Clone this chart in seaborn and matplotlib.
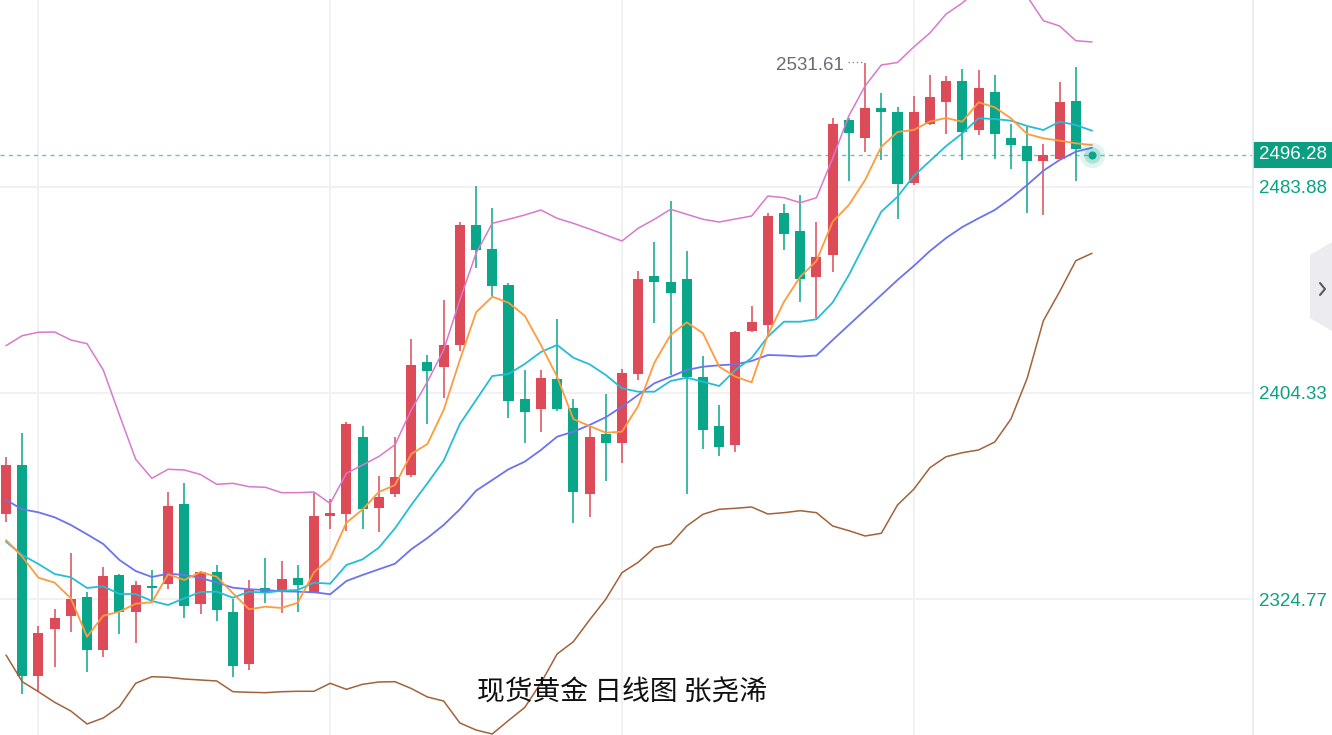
import numpy as np
import pandas as pd
import matplotlib
matplotlib.use("Agg")
import matplotlib.pyplot as plt
import matplotlib.transforms as mtransforms
from matplotlib.patches import Polygon, Rectangle
from matplotlib.lines import Line2D
import seaborn as sns

# ---------------- data (daily candles) ----------------
opens = [2357.60, 2376.53, 2295.05, 2313.08, 2318.22, 2325.55, 2304.97, 2334.16, 2319.88, 2329.80,
         2330.46, 2361.47, 2322.85, 2335.32, 2319.76, 2299.56, 2328.91, 2327.99, 2333.01, 2327.60,
         2356.83, 2357.49, 2387.45, 2359.81, 2365.21, 2372.66, 2416.30, 2414.37, 2422.98, 2469.20,
         2459.94, 2446.04, 2401.90, 2398.15, 2409.62, 2398.42, 2365.21, 2388.50, 2384.91, 2411.55,
         2449.40, 2447.08, 2448.35, 2410.62, 2391.59, 2384.25, 2428.27, 2430.47, 2473.84, 2466.89,
         2449.01, 2457.74, 2509.87, 2502.80, 2514.39, 2512.73, 2485.42, 2508.21, 2516.82, 2524.81,
         2505.89, 2520.68, 2502.80, 2499.83, 2493.80, 2494.81, 2517.20]
highs = [2379.50, 2388.77, 2314.47, 2320.80, 2342.43, 2327.37, 2337.14, 2334.40, 2331.85, 2335.98,
         2366.10, 2369.58, 2335.71, 2337.79, 2324.67, 2332.00, 2340.61, 2339.46, 2337.79, 2365.60,
         2363.28, 2393.25, 2391.59, 2372.39, 2387.45, 2425.07, 2418.89, 2440.24, 2470.36, 2484.27,
         2475.65, 2446.69, 2413.21, 2413.10, 2432.79, 2402.01, 2391.08, 2403.83, 2413.60, 2451.44,
         2462.76, 2478.47, 2459.28, 2418.73, 2399.70, 2428.30, 2437.93, 2473.72, 2477.31, 2480.79,
         2470.36, 2510.41, 2510.41, 2531.61, 2520.29, 2514.89, 2519.02, 2527.13, 2526.74, 2529.45,
         2528.94, 2527.13, 2508.21, 2506.93, 2500.48, 2524.31, 2530.10]
lows = [2354.63, 2287.98, 2288.98, 2298.41, 2311.92, 2296.71, 2302.50, 2311.27, 2307.67, 2323.74,
        2328.53, 2317.56, 2318.87, 2316.29, 2294.54, 2297.36, 2323.12, 2319.26, 2319.88, 2327.10,
        2351.70, 2351.16, 2351.70, 2350.65, 2364.05, 2372.01, 2392.36, 2402.28, 2420.55, 2452.48,
        2441.79, 2394.56, 2384.91, 2389.39, 2397.49, 2354.24, 2356.33, 2370.35, 2377.18, 2409.35,
        2431.25, 2411.28, 2365.33, 2382.59, 2380.00, 2381.66, 2427.90, 2426.07, 2459.43, 2439.35,
        2433.18, 2451.17, 2486.20, 2497.51, 2494.31, 2471.52, 2484.70, 2508.00, 2504.35, 2494.31,
        2503.96, 2494.81, 2490.83, 2473.95, 2472.95, 2494.60, 2486.20]
closes = [2376.53, 2295.05, 2311.54, 2317.44, 2324.90, 2304.97, 2333.66, 2319.88, 2330.19, 2328.84,
          2360.81, 2322.19, 2335.32, 2320.53, 2299.02, 2328.26, 2327.60, 2332.50, 2330.19, 2356.83,
          2357.87, 2392.24, 2359.42, 2364.17, 2371.78, 2415.26, 2412.71, 2422.87, 2469.20, 2459.55,
          2445.53, 2401.12, 2396.99, 2410.01, 2398.04, 2366.22, 2387.45, 2384.91, 2411.94, 2448.35,
          2447.31, 2442.83, 2410.62, 2390.04, 2383.59, 2428.00, 2431.63, 2472.80, 2465.85, 2448.35,
          2456.96, 2508.09, 2504.73, 2514.39, 2512.84, 2484.92, 2512.73, 2518.52, 2524.81, 2505.23,
          2521.99, 2504.23, 2500.10, 2493.80, 2496.35, 2516.70, 2498.40]

# indicator lines (one extra point: the live day)
ma5 = [2347.56, 2341.12, 2333.01, 2331.08, 2325.05, 2310.22, 2318.33, 2319.88, 2322.97, 2323.51,
       2334.32, 2332.12, 2335.21, 2333.39, 2326.98, 2320.80, 2321.81, 2321.31, 2323.35, 2335.09,
       2340.50, 2354.24, 2359.34, 2366.10, 2368.80, 2380.77, 2384.64, 2397.77, 2417.07, 2435.49,
       2441.52, 2439.20, 2434.18, 2422.87, 2410.62, 2394.29, 2391.59, 2389.00, 2389.39, 2399.31,
       2416.03, 2426.73, 2431.63, 2427.38, 2414.49, 2410.62, 2408.46, 2426.73, 2439.59, 2449.24,
       2455.30, 2470.48, 2476.93, 2486.58, 2499.44, 2505.12, 2505.89, 2509.17, 2510.52, 2509.10,
       2516.59, 2514.66, 2510.41, 2504.35, 2502.69, 2501.76, 2500.75, 2500.10]
ma10 = [2346.91, 2341.77, 2338.30, 2334.43, 2333.16, 2329.03, 2329.68, 2326.71, 2326.71, 2324.01,
        2322.46, 2325.05, 2327.48, 2327.60, 2325.28, 2327.60, 2327.21, 2327.99, 2328.26, 2331.08,
        2330.69, 2337.91, 2340.11, 2344.59, 2352.08, 2361.08, 2369.46, 2378.19, 2392.36, 2401.63,
        2410.89, 2411.67, 2415.53, 2420.16, 2422.87, 2417.96, 2415.41, 2411.28, 2406.14, 2404.83,
        2404.83, 2408.96, 2410.24, 2408.69, 2407.03, 2413.21, 2417.85, 2426.07, 2431.86, 2431.86,
        2432.79, 2439.28, 2449.90, 2462.14, 2474.34, 2480.13, 2488.13, 2493.92, 2499.71, 2504.62,
        2510.41, 2510.14, 2509.48, 2507.43, 2505.89, 2509.10, 2507.82, 2505.62]
ma20 = [2363.01, 2359.42, 2358.26, 2356.33, 2353.36, 2349.77, 2346.02, 2339.84, 2335.59, 2333.28,
        2334.55, 2334.05, 2332.89, 2331.15, 2329.14, 2328.53, 2328.26, 2327.75, 2327.60, 2327.37,
        2326.60, 2331.73, 2334.05, 2336.25, 2338.41, 2343.97, 2348.34, 2353.36, 2359.42, 2366.60,
        2370.73, 2374.87, 2377.80, 2382.32, 2387.45, 2389.39, 2391.97, 2394.95, 2399.04, 2403.56,
        2408.08, 2410.62, 2413.21, 2414.49, 2415.03, 2415.41, 2416.69, 2419.00, 2418.81, 2418.42,
        2418.81, 2424.80, 2430.59, 2436.38, 2442.17, 2447.97, 2453.37, 2459.16, 2464.18, 2468.43,
        2471.79, 2475.00, 2479.52, 2484.65, 2490.17, 2494.31, 2497.51, 2499.05]
boll_up = [2422.60, 2426.46, 2427.77, 2427.89, 2424.80, 2423.37, 2413.21, 2395.83, 2378.73, 2371.39,
           2374.87, 2374.60, 2372.86, 2369.07, 2369.46, 2368.15, 2367.92, 2365.83, 2365.83, 2366.10,
           2361.66, 2373.32, 2376.53, 2379.81, 2384.37, 2397.77, 2408.69, 2420.93, 2440.24, 2458.28,
           2469.86, 2471.41, 2473.07, 2475.00, 2471.79, 2469.86, 2467.66, 2465.34, 2463.03, 2467.93,
           2471.41, 2475.27, 2473.34, 2471.41, 2470.36, 2471.52, 2472.68, 2480.40, 2479.75, 2477.82,
           2479.75, 2494.96, 2511.41, 2522.88, 2530.99, 2531.96, 2537.94, 2543.35, 2550.68, 2554.93,
           2560.50, 2563.00, 2562.50, 2557.50, 2548.10, 2546.05, 2540.37, 2539.87]
boll_dn = [2303.16, 2292.85, 2288.98, 2284.89, 2281.53, 2276.51, 2278.83, 2283.19, 2292.23, 2294.78,
           2294.54, 2293.89, 2293.50, 2293.12, 2288.98, 2288.75, 2288.60, 2288.98, 2289.14, 2289.14,
           2292.23, 2289.91, 2291.84, 2292.73, 2292.85, 2290.22, 2286.94, 2285.39, 2276.90, 2274.19,
           2272.65, 2277.86, 2282.88, 2292.34, 2303.54, 2308.29, 2316.67, 2324.67, 2334.94, 2338.95,
           2344.59, 2346.02, 2352.97, 2357.49, 2359.42, 2359.81, 2360.31, 2357.60, 2358.11, 2358.88,
           2358.11, 2352.97, 2351.16, 2349.11, 2350.15, 2361.08, 2367.14, 2375.48, 2379.73, 2381.28,
           2382.32, 2385.41, 2394.29, 2410.01, 2432.25, 2443.45, 2455.42, 2458.28]

ytick_values = [2324.77, 2404.33, 2483.88]
ytick_labels = ["2324.77", "2404.33", "2483.88"]
last_price = 2496.28
last_price_label = "2496.28"
peak_index = 53
peak_value = 2531.61
peak_label = "2531.61"
title_text = "现货黄金 日线图 张尧浠"

# ---------------- style ----------------
sns.set_theme(style="white")
plt.rcParams['font.family'] = ['Liberation Sans', 'Noto Sans CJK SC', 'DejaVu Sans']

W, H = 1332, 735
fig = plt.figure(figsize=(W / 100, H / 100), dpi=100)
fig.patch.set_facecolor("white")
ax = fig.add_axes([0, 0, 1252 / W, 1])
ax.set_facecolor("white")

RED = "#dc4b57"
GREEN = "#0aa68a"
TEAL_TXT = "#0aa183"

idx = np.arange(len(opens))
o = np.array(opens)
c = np.array(closes)
colors = [RED if cc >= oo else GREEN for oo, cc in zip(o, c)]

# wicks and bodies
ax.vlines(idx, lows, highs, colors=colors, linewidth=1.1, zorder=2)
bottoms = np.minimum(o, c)
heights = np.maximum(np.abs(c - o), 0.55)
ax.bar(idx, heights, bottom=bottoms, width=0.62, color=colors, linewidth=0, zorder=2)

# indicator lines
line_df = pd.DataFrame({
    "day": np.arange(len(ma5)),
    "ma5": ma5, "ma10": ma10, "ma20": ma20,
    "up": boll_up, "dn": boll_dn,
})
styles = [
    ("up", "#d978cd", 1.1),
    ("dn", "#a2623a", 1.1),
    ("ma20", "#6b73ef", 1.3),
    ("ma10", "#25bdd6", 1.3),
    ("ma5", "#ff9b3d", 1.3),
]
for col, colr, lw in styles:
    sns.lineplot(data=line_df, x="day", y=col, ax=ax, color=colr,
                 linewidth=lw, zorder=3, legend=False)

# current price dashed line and live dot
ax.axhline(last_price, color="#62c9b3", linewidth=1.0, linestyle=(0, (3, 3)), zorder=1)
live_day = len(ma5) - 1
ax.scatter([live_day], [last_price], s=330, color=GREEN, alpha=0.12, linewidths=0, zorder=4)
ax.scatter([live_day], [last_price], s=140, color=GREEN, alpha=0.22, linewidths=0, zorder=4)
ax.scatter([live_day], [last_price], s=34, color=GREEN, alpha=1.0, linewidths=0, zorder=5)

# peak annotation
ax.annotate(peak_label, xy=(peak_index, peak_value), xytext=(-21, -2),
            textcoords="offset pixels", ha="right", va="center",
            color="#6c6c76", fontsize=13.5, zorder=6)
ax.plot([peak_index - 1.05, peak_index - 0.2], [peak_value + 0.6] * 2,
        color="#8a8a92", linestyle=(0, (1, 2)), linewidth=1.0, zorder=6)

# axes, grid
ax.set_xlim(-0.37, 76.87)
ax.set_ylim(2272.26, 2556.09)
ax.set_xlabel("")
ax.set_ylabel("")
ax.set_xticks([2, 20, 38, 56])
ax.set_yticks(ytick_values)
ax.set_yticklabels(ytick_labels)
ax.yaxis.tick_right()
ax.tick_params(axis="x", length=0, labelbottom=False)
ax.tick_params(axis="y", length=0, pad=5, labelcolor=TEAL_TXT, labelsize=13.5)
ax.grid(True, color="#f1f1f4", linewidth=1.4)
ax.set_axisbelow(True)
for s in ax.spines.values():
    s.set_visible(False)

# right separator
fig.add_artist(Line2D([1252.5 / W] * 2, [0, 1], color="#e9e9ee", linewidth=1.2,
                      transform=fig.transFigure))

# current price box
trans = mtransforms.blended_transform_factory(fig.transFigure, ax.transData)
box_h = 26 / 2.5896
ax.add_patch(Rectangle((1253 / W, last_price - box_h / 2), (W - 1253) / W, box_h,
                       transform=trans, facecolor="#0b9e80", edgecolor="none",
                       clip_on=False, zorder=7))
ax.text(1259 / W, last_price, last_price_label, transform=trans, color="white",
        ha="left", va="center", fontsize=13.5, clip_on=False, zorder=8)

# side button
pts = [(1332, 242), (1310, 255), (1310, 318), (1332, 331)]
fig.add_artist(Polygon([(x / W, 1 - y / H) for x, y in pts], closed=True,
                       facecolor="#ececf0", edgecolor="none", transform=fig.transFigure))
chev = [(1320, 283), (1325, 289), (1320, 295)]
fig.add_artist(Line2D([p[0] / W for p in chev], [1 - p[1] / H for p in chev],
                      color="#5a5a62", linewidth=1.5, transform=fig.transFigure))

# watermark title
fig.text(622 / W, 1 - 693 / H, title_text, ha="center", va="center", fontsize=20,
         color="#111111", family=["Noto Sans CJK SC", "DejaVu Sans"])

fig.savefig("out.png", dpi=100)
